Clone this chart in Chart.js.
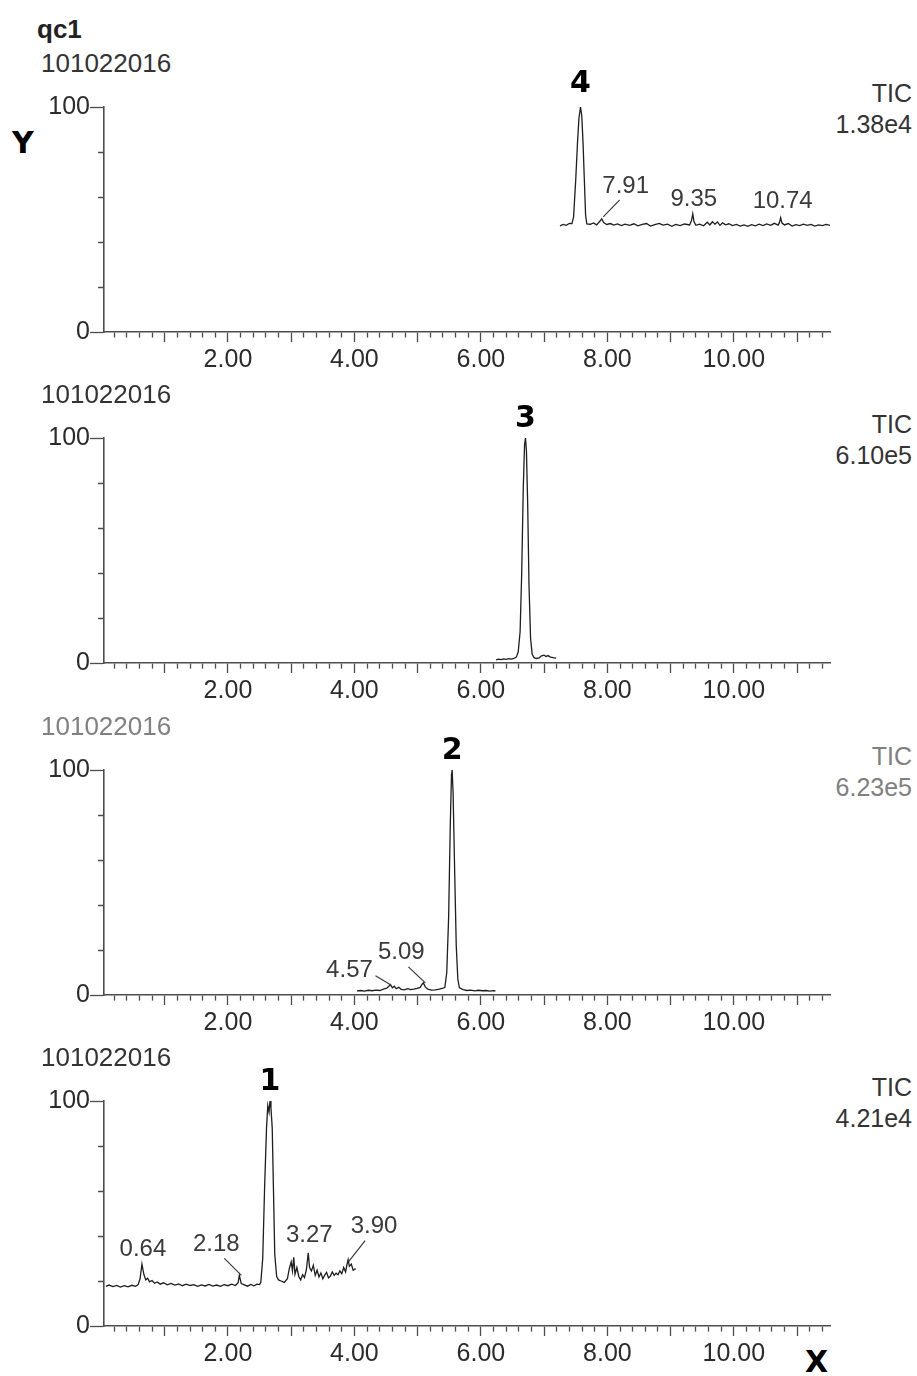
<!DOCTYPE html>
<html lang="en">
<head>
  <meta charset="UTF-8">
  <title>qc1 - TIC chromatograms</title>
  <script src="https://cdn.jsdelivr.net/npm/chart.js@4.4.1/dist/chart.umd.min.js"></script>
  <style>
    body {
      margin: 0;
      background: #fff;
    }

    #page {
      position: relative;
      width: 917px;
      height: 1376px;
      overflow: hidden;
      font-family: 'Liberation Sans', Arial, sans-serif;
    }

    .panel {
      position: absolute;
      left: 0;
      width: 917px;
      height: 330px;
    }

    .txt {
      position: absolute;
      white-space: nowrap;
      line-height: 1;
      transform: translateY(-50%);
      color: #333;
      font-size: 25px;
    }

    .big {
      font-family: 'DejaVu Sans', sans-serif;
      font-weight: bold;
      font-size: 30px;
      color: #000;
    }
  </style>
</head>
<body>
  <div id="page">
    <div class="txt" style="left:37px; top:29px; font-weight:bold; font-size:26px; color:#222;">qc1</div>
    <div class="txt big" style="left:12px; top:143px;">Y</div>
    <div class="txt big" style="left:805px; top:1362px;">X</div>
  </div>

  <script>
    // ---- data (retention time in min, relative abundance in %) ----

    // top trace, peak 4
    const tPanel1 = [7.25, 7.30, 7.35, 7.40, 7.44, 7.465, 7.50, 7.527, 7.55, 7.575, 7.595, 7.615, 7.635, 7.655, 7.675,
      7.73, 7.78, 7.83, 7.88, 7.91, 7.94, 7.99, 8.05, 8.10, 8.16, 8.22, 8.28, 8.35, 8.42, 8.48, 8.55, 8.62, 8.68,
      8.75, 8.82, 8.88, 8.95, 9.02, 9.08, 9.15, 9.22, 9.30, 9.33, 9.35, 9.37, 9.40, 9.46, 9.52, 9.58, 9.62, 9.66,
      9.70, 9.74, 9.78, 9.82, 9.87, 9.92, 9.98, 10.04, 10.10, 10.16, 10.22, 10.28, 10.34, 10.40, 10.46, 10.52,
      10.58, 10.64, 10.70, 10.72, 10.74, 10.76, 10.80, 10.86, 10.92, 10.98, 11.04, 11.10, 11.16, 11.22, 11.28,
      11.34, 11.40, 11.46, 11.52];
    const yPanel1 = [47.2, 47.8, 47.4, 48.3, 48.2, 51, 68, 84, 95, 100, 96, 84, 68, 52, 48.0,
      47.9, 48.5, 47.6, 49.2, 50.3, 48.6, 47.8, 48.2, 47.5, 48.0, 47.3, 47.9, 47.4, 48.1, 47.2, 47.8, 48.2, 47.1,
      47.7, 48.3, 47.5, 47.9, 47.0, 47.8, 47.3, 48.0, 47.6, 49.5, 52.5, 49.0, 47.4, 47.9, 47.2, 48.8, 47.6, 49.0,
      47.9, 48.9, 47.4, 48.5, 47.6, 48.1, 47.3, 47.8, 47.1, 47.6, 47.0, 47.7, 47.2, 47.9, 47.3, 48.0,
      47.4, 48.3, 47.5, 48.6, 50.8, 48.4, 47.6, 48.2, 47.1, 47.7, 47.3, 47.9, 47.4, 47.8, 47.1,
      47.6, 47.3, 47.8, 47.4];

    // second trace, peak 3
    const tPanel2 = [6.24, 6.28, 6.32, 6.36, 6.40, 6.44, 6.48, 6.52, 6.56, 6.59, 6.62, 6.645, 6.67, 6.69, 6.705,
      6.72, 6.74, 6.76, 6.785, 6.81, 6.84, 6.88, 6.92, 6.96, 7.00, 7.03, 7.06, 7.10, 7.14, 7.19];
    const yPanel2 = [1.4, 1.7, 1.5, 1.8, 1.6, 1.9, 1.7, 2.0, 2.6, 5, 14, 40, 78, 97, 100,
      94, 70, 35, 11, 4, 2.4, 2.0, 2.3, 3.2, 3.5, 2.9, 3.3, 2.6, 2.4, 2.2];

    // third trace, peak 2
    const tPanel3 = [4.04, 4.10, 4.16, 4.22, 4.28, 4.34, 4.40, 4.46, 4.51, 4.54, 4.57, 4.60, 4.63, 4.66, 4.70,
      4.74, 4.79, 4.84, 4.89, 4.94, 4.99, 5.04, 5.07, 5.09, 5.12, 5.16, 5.22, 5.28, 5.34, 5.39, 5.43, 5.46,
      5.49, 5.515, 5.535, 5.545, 5.56, 5.585, 5.61, 5.635, 5.66, 5.72, 5.78, 5.84, 5.90, 5.96, 6.02, 6.08,
      6.14, 6.20, 6.23];
    const yPanel3 = [1.8, 2.0, 1.7, 2.1, 1.9, 2.2, 2.0, 2.6, 3.0, 3.8, 4.6, 3.2, 3.9, 2.8, 3.4,
      2.5, 2.3, 2.8, 2.4, 2.6, 2.9, 3.4, 4.8, 5.4, 3.6, 2.6, 2.2, 2.3, 2.6, 2.9, 3.4, 10,
      35, 75, 98, 100, 90, 55, 22, 7, 3.2, 2.4, 2.0, 2.2, 1.8, 2.1, 1.9, 2.0,
      1.7, 1.9, 1.8];

    // bottom trace, peak 1
    const tPanel4 = [0.07, 0.12, 0.18, 0.24, 0.30, 0.36, 0.42, 0.48, 0.54, 0.58, 0.61, 0.64, 0.67, 0.70, 0.73,
      0.76, 0.80, 0.84, 0.88, 0.93, 0.98, 1.04, 1.10, 1.16, 1.22, 1.28, 1.34, 1.40, 1.46, 1.52, 1.58, 1.64,
      1.70, 1.76, 1.82, 1.88, 1.94, 2.00, 2.06, 2.12, 2.16, 2.18, 2.21, 2.26, 2.31, 2.36, 2.41, 2.46, 2.50,
      2.52, 2.55, 2.58, 2.61, 2.63, 2.65, 2.665, 2.68, 2.70, 2.72, 2.74, 2.77, 2.80, 2.84, 2.89, 2.94, 2.97,
      3.00, 3.02, 3.04, 3.06, 3.09, 3.12, 3.15, 3.18, 3.21, 3.24, 3.27, 3.29, 3.32, 3.35, 3.38, 3.41, 3.44,
      3.47, 3.50, 3.53, 3.56, 3.59, 3.62, 3.65, 3.68, 3.71, 3.74, 3.77, 3.80, 3.83, 3.86, 3.88, 3.90, 3.92,
      3.95, 3.98, 4.02];
    const yPanel4 = [17.6, 18.2, 17.5, 18.0, 17.3, 17.9, 17.4, 18.1, 17.6, 18.4, 21, 27.5, 23, 20.5, 21.2,
      19.6, 20.2, 19.0, 19.6, 18.6, 19.2, 18.3, 18.9, 18.2, 18.7, 17.9, 18.6, 18.0, 18.4, 17.6, 18.3, 17.8,
      18.5, 17.7, 18.2, 17.6, 18.4, 17.9, 18.6, 18.0, 19.2, 22.5, 18.9, 18.3, 17.7, 18.5, 17.9, 18.6, 18.4,
      19.5, 30, 62, 88, 98, 95, 100, 97, 88, 60, 32, 22, 20.5, 20.0, 19.4, 21.0, 25.5,
      28.5, 24.5, 30.5, 23.0, 26.0, 22.0, 20.5, 22.8, 21.5, 25.0, 32.5, 26.0, 24.5, 27.0, 22.5, 24.8, 21.8,
      23.6, 21.0, 22.6, 23.8, 21.4, 22.2, 24.0, 22.5, 23.5, 22.8, 24.5, 23.2, 26.0, 24.0, 27.0, 29.5, 26.5,
      27.5, 24.8, 25.5];

    // labelled retention times: [text, time, abundance at apex]
    const peakLabels1 = [['7.91', 7.91, 50.3], ['9.35', 9.35, 52.5], ['10.74', 10.74, 50.8]];
    const peakLabels2 = [];
    const peakLabels3 = [['4.57', 4.57, 4.6], ['5.09', 5.09, 5.4]];
    const peakLabels4 = [['0.64', 0.64, 27.5], ['2.18', 2.18, 22.5], ['3.27', 3.27, 32.5], ['3.90', 3.90, 29.5]];

    // compound numbers and apex times
    const compoundNames = ['4', '3', '2', '1'];
    const compoundTimes = [7.575, 6.705, 5.545, 2.665];

    const runNames = ['101022016', '101022016', '101022016', '101022016'];
    const traceScales = ['1.38e4', '6.10e5', '6.23e5', '4.21e4'];

    // axis ticks
    const xLabelValues = [2, 4, 6, 8, 10];
    const yLabelValues = [0, 100];

    // ---- layout / style ----
    const plotTops = [107, 438, 770, 1101];
    const headerColors = ['#333', '#333', '#808080', '#333'];

    // label offsets from the apex point (px), optional leader line [x1, y1, x2, y2]
    const labelLayout = {
      '7.91': { dx: 24, dy: -32, lead: [1.5, -2, 18, -19] },
      '9.35': { dx: 1, dy: -15 },
      '10.74': { dx: 2, dy: -16 },
      '4.57': { dx: -41, dy: -14, lead: [-15, -9, 0, 0] },
      '5.09': { dx: -22, dy: -30, lead: [-15, -16, 2, 0] },
      '0.64': { dx: 1, dy: -15 },
      '2.18': { dx: -23, dy: -31, lead: [-15, -17, 2, 0] },
      '3.27': { dx: 1, dy: -18 },
      '3.90': { dx: 26, dy: -33, lead: [17, -19, 0.5, 2] }
    };

    const xTickValues = [];
    for (let k = 1; k <= 57; k++) xTickValues.push(Math.round(k * 2) / 10);
    const yTickValues = [];
    for (let k = 0; k <= 10; k++) yTickValues.push(k * 10);

    const axisColor = '#4d4d4d';
    const labelFont = { family: 'Liberation Sans', size: 25 };

    const page = document.getElementById('page');

    function addText(text, style, cls) {
      const d = document.createElement('div');
      d.className = 'txt' + (cls ? ' ' + cls : '');
      d.textContent = text;
      Object.assign(d.style, style);
      page.appendChild(d);
    }

    function annotations(labels, peakIdx) {
      return {
        id: 'peakText' + peakIdx,
        afterDatasetsDraw(chart) {
          const { ctx, scales: { x, y } } = chart;
          ctx.save();
          ctx.textAlign = 'center';
          ctx.textBaseline = 'middle';

          ctx.fillStyle = '#3a3a3a';
          ctx.strokeStyle = '#3a3a3a';
          ctx.lineWidth = 1.2;
          ctx.font = '24px "Liberation Sans"';
          labels.forEach(([text, t, v]) => {
            const px = x.getPixelForValue(t);
            const py = y.getPixelForValue(v);
            const lay = labelLayout[text];
            ctx.fillText(text, px + lay.dx, py + lay.dy);
            if (lay.lead) {
              ctx.beginPath();
              ctx.moveTo(px + lay.lead[0], py + lay.lead[1]);
              ctx.lineTo(px + lay.lead[2], py + lay.lead[3]);
              ctx.stroke();
            }
          });

          ctx.fillStyle = '#000';
          ctx.font = 'bold 30px "DejaVu Sans"';
          const cx = x.getPixelForValue(compoundTimes[peakIdx]);
          const cy = y.getPixelForValue(100);
          ctx.fillText(compoundNames[peakIdx], cx, cy - (peakIdx === 0 ? 23 : 19));
          ctx.restore();
        }
      };
    }

    function makePanel(i, times, values, labels) {
      const top = plotTops[i];

      addText(runNames[i], { left: '41px', top: (top - 44) + 'px', fontSize: '26px', color: headerColors[i] });
      addText('TIC', { right: '5px', top: (top - 14) + 'px', color: headerColors[i] });
      addText(traceScales[i], { right: '5px', top: (top + 17) + 'px', color: headerColors[i] });

      const box = document.createElement('div');
      box.className = 'panel';
      box.style.top = (top - 50) + 'px';
      const canvas = document.createElement('canvas');
      canvas.width = 917;
      canvas.height = 330;
      box.appendChild(canvas);
      page.appendChild(box);

      new Chart(canvas, {
        type: 'line',
        data: {
          datasets: [{
            label: 'TIC',
            data: times.map((t, k) => ({ x: t, y: values[k] })),
            borderColor: '#1e1e1e',
            borderWidth: 1.3,
            pointRadius: 0,
            tension: 0
          }]
        },
        options: {
          responsive: false,
          animation: false,
          layout: { padding: { top: 50, right: 87, left: 0, bottom: 0 } },
          plugins: { legend: { display: false }, tooltip: { enabled: false } },
          scales: {
            x: {
              type: 'linear',
              min: 0.04,
              max: 11.52,
              afterBuildTicks: s => { s.ticks = xTickValues.map(v => ({ value: v })); },
              afterFit: s => { s.height = 55; },
              border: { display: true, color: axisColor, width: 1.6 },
              grid: {
                drawOnChartArea: false,
                tickLength: 10,
                tickColor: axisColor,
                tickWidth: 1.3,
                tickBorderDash: c => (c.tick && Math.abs(c.tick.value - Math.round(c.tick.value)) < 1e-6) ? [] : [5, 50]
              },
              ticks: {
                autoSkip: false,
                maxRotation: 0,
                padding: 3,
                color: '#2b2b2b',
                font: labelFont,
                callback: v => xLabelValues.some(l => Math.abs(l - v) < 1e-6) ? v.toFixed(2) : ''
              }
            },
            y: {
              min: 0,
              max: 100,
              afterBuildTicks: s => { s.ticks = yTickValues.map(v => ({ value: v })); },
              afterFit: s => { s.width = 104; },
              border: { display: true, color: axisColor, width: 1.6 },
              grid: {
                drawOnChartArea: false,
                tickLength: 14,
                tickColor: axisColor,
                tickWidth: 1.3,
                tickBorderDash: c => (c.tick && c.tick.value % 50 === 0) ? [] : [0, 8, 6, 50]
              },
              ticks: {
                padding: 0,
                color: '#2b2b2b',
                font: labelFont,
                callback: v => yLabelValues.includes(v) ? String(v) : ''
              }
            }
          }
        },
        plugins: [annotations(labels, i)]
      });
    }

    makePanel(0, tPanel1, yPanel1, peakLabels1);
    makePanel(1, tPanel2, yPanel2, peakLabels2);
    makePanel(2, tPanel3, yPanel3, peakLabels3);
    makePanel(3, tPanel4, yPanel4, peakLabels4);
  </script>
</body>
</html>
